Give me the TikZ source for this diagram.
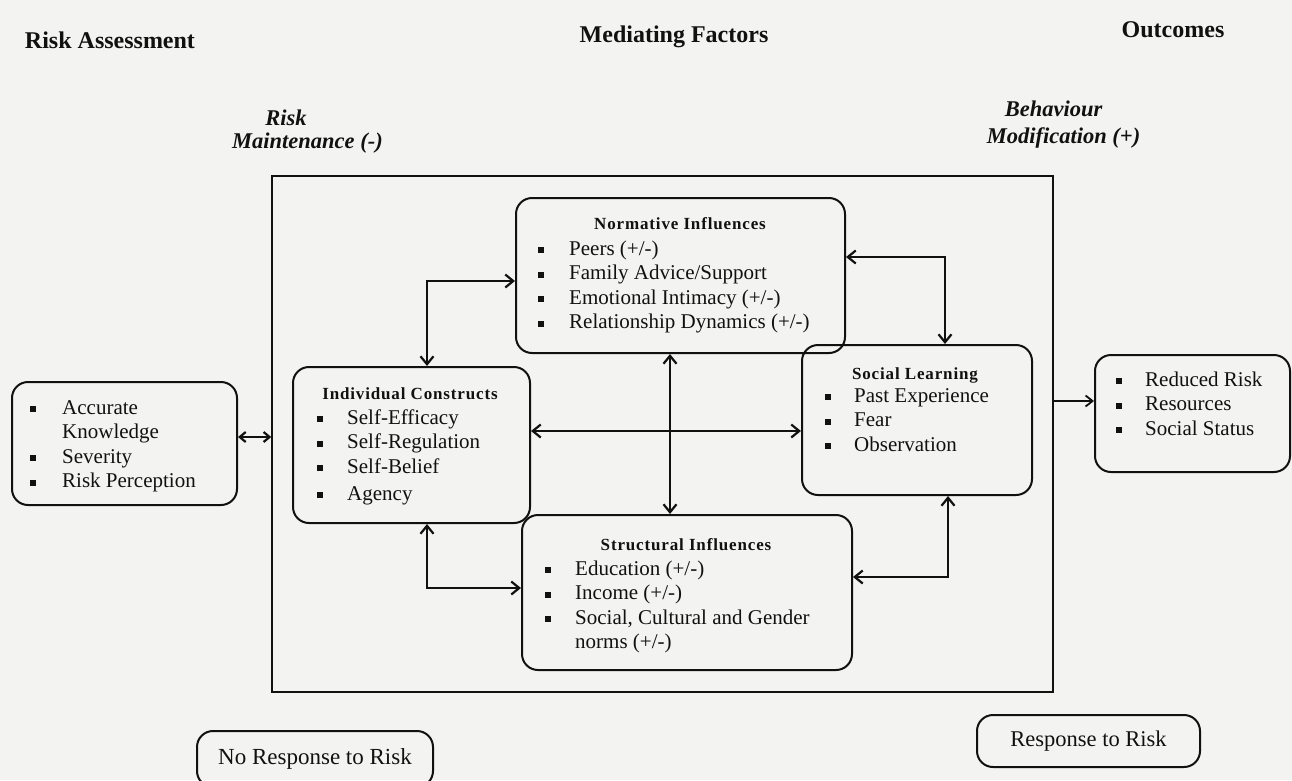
\documentclass[tikz,border=0pt]{standalone}
\usepackage{fontspec}
\setmainfont{Liberation Serif}
\usetikzlibrary{arrows.meta}
\definecolor{bgc}{HTML}{F3F3F1}
\definecolor{ink}{HTML}{111111}
\newcommand{\bl}{\raisebox{2pt}{\rule{6pt}{6pt}}}
\newcommand{\itemfont}{\fontsize{21}{24.5}\selectfont}
\newcommand{\titlefont}{\fontsize{17}{20}\selectfont\bfseries\addfontfeature{LetterSpace=5}}
\begin{document}
\begin{tikzpicture}[x=1pt,y=-1pt,
  box/.style={draw=ink, line width=2pt, rounded corners=16pt, inner sep=0pt},
  frm/.style={draw=ink, line width=1.4pt, inner sep=0pt},
  hdr/.style={font=\fontsize{24}{28}\selectfont\bfseries, inner sep=0pt, anchor=base, text=ink},
  itl/.style={font=\fontsize{22.5}{27}\selectfont\bfseries\itshape, inner sep=0pt, anchor=base, text=ink},
  ttl/.style={font=\titlefont, inner sep=0pt, anchor=base, text=ink},
  lst/.style={font=\itemfont, inner sep=0pt, anchor=base west, text=ink},
  tip/.style={Straight Barb[length=8pt,width=13pt]},
  arr/.style={draw=ink, line width=2.2pt, {Straight Barb[length=8pt,width=13pt]}-{Straight Barb[length=8pt,width=13pt]}},
  sarr/.style={draw=ink, line width=1.8pt, -{Straight Barb[length=7pt,width=11pt]}}
]
\clip (0,0) rectangle (1292,780);
\fill[bgc] (0,0) rectangle (1292,780);

% headers
\node[hdr] (h1) at (110,48) {Risk Assessment};
\node[hdr] (h2) at (674,42) {Mediating Factors};
\node[hdr] (h3) at (1173,37) {Outcomes};
\node[itl] (rm1) at (286,125) {Risk};
\node[itl] (rm2) at (307.5,148) {Maintenance (-)};
\node[itl] (bm1) at (1053.5,116) {Behaviour};
\node[itl] (bm2) at (1063.5,143) {Modification (+)};

% frame
\node[frm, minimum width=781pt, minimum height=516pt] (frame) at (662.5,434) {};

% boxes
\node[box, minimum width=225pt, minimum height=123pt] (ra) at (124.5,443.5) {};
\node[box, minimum width=237pt, minimum height=156pt] (ind) at (411.5,445) {};
\node[box, minimum width=329pt, minimum height=155pt] (norm) at (680.5,275.5) {};
\node[box, minimum width=230pt, minimum height=150pt] (soc) at (917,420) {};
\node[box, minimum width=195pt, minimum height=117pt] (out) at (1192.5,413.5) {};
\node[box, minimum width=330pt, minimum height=155pt] (str) at (687,592.5) {};
\node[box, minimum width=236pt, minimum height=56pt, font=\fontsize{23}{27}\selectfont, text=ink] (nr) at (315,759) {No Response to Risk};
\node[box, minimum width=223pt, minimum height=52pt, font=\fontsize{22.5}{27}\selectfont, text=ink] (rr) at (1088.5,741) {Response to Risk};

% titles
\node[ttl] (tind) at (410,399) {Individual Constructs};
\node[ttl] (tnorm) at (680,229) {Normative Influences};
\node[ttl] (tsoc) at (915,379) {Social Learning};
\node[ttl] (tstr) at (686,550) {Structural Influences};

% lists
\node[lst] (lra) at (30,414) {\begin{tabular}[t]{@{}p{32pt}@{}l@{}}
\bl & Accurate\\ & Knowledge\\ \bl & Severity\\ \bl & Risk Perception\end{tabular}};
\node[lst] (lind) at (317,424) {\begin{tabular}[t]{@{}p{30pt}@{}l@{}}
\bl & Self-Efficacy\\ \bl & Self-Regulation\\ \bl & Self-Belief\\[2.5pt] \bl & Agency\end{tabular}};
\node[lst] (lnorm) at (538,255) {\begin{tabular}[t]{@{}p{31pt}@{}l@{}}
\bl & Peers (+/-)\\ \bl & Family Advice/Support\\ \bl & Emotional Intimacy (+/-)\\ \bl & Relationship Dynamics (+/-)\end{tabular}};
\node[lst] (lsoc) at (825,402) {\begin{tabular}[t]{@{}p{29pt}@{}l@{}}
\bl & Past Experience\\ \bl & Fear\\ \bl & Observation\end{tabular}};
\node[lst] (lout) at (1116,386) {\begin{tabular}[t]{@{}p{29pt}@{}l@{}}
\bl & Reduced Risk\\ \bl & Resources\\ \bl & Social Status\end{tabular}};
\node[lst] (lstr) at (545,575) {\begin{tabular}[t]{@{}p{30pt}@{}l@{}}
\bl & Education (+/-)\\ \bl & Income (+/-)\\ \bl & Social, Cultural and Gender\\ & norms (+/-)\end{tabular}};

% connector coordinates
\coordinate (c1) at (427,281);
\coordinate (c2) at (945,257);
\coordinate (c3) at (0,431);
\coordinate (c4) at (670,0);
\coordinate (c5) at (427,588);
\coordinate (c6) at (948,577);
\coordinate (c7) at (0,437);
\coordinate (c8) at (0,401);

\draw[arr] (c1 |- ind.north) |- (norm.west |- c1);
\draw[arr] (norm.east |- c2) -| (c2 |- soc.north);
\draw[arr] (ind.east |- c3) -- (soc.west |- c3);
\draw[arr] (c4 |- norm.south) -- (c4 |- str.north);
\draw[arr] (c5 |- ind.south) |- (str.west |- c5);
\draw[arr] (str.east |- c6) -| (c6 |- soc.south);
\draw[draw=ink, line width=2.2pt, {Straight Barb[length=6pt,width=10pt]}-{Straight Barb[length=6pt,width=10pt]}] (ra.east |- c7) -- (frame.west |- c7);
\draw[sarr] (frame.east |- c8) -- (out.west |- c8);
\end{tikzpicture}
\end{document}
